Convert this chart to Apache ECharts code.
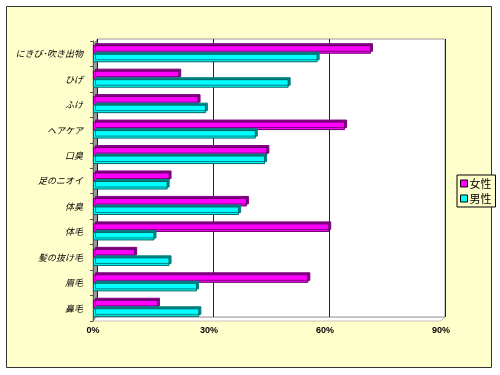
<!DOCTYPE html>
<html><head><meta charset="utf-8">
<script src="https://cdn.jsdelivr.net/npm/echarts@6/dist/echarts.min.js"></script>
<style>html,body{margin:0;padding:0;background:#fff}#c{width:500px;height:375px}</style>
</head><body><div id="c"></div>
<script>
const categories = ['にきび･吹き出物','ひげ','ふけ','ヘアケア','口臭','足のニオイ','体臭','体毛','髪の抜け毛','眉毛','鼻毛'];
const female = [71.9, 22.3, 27.3, 65.2, 45.1, 19.8, 39.8, 61.1, 10.9, 55.7, 16.8];
const male   = [58.1, 50.6, 29.2, 42.1, 44.5, 19.3, 37.8, 15.9, 19.8, 26.9, 27.5];
const seriesNames = ['女性','男性'];
const xTicks = [0, 30, 60, 90];

const chart = echarts.init(document.getElementById('c'), null, {renderer:'canvas'});
const jp = '"Noto Sans CJK JP", "Noto Sans", sans-serif';
chart.setOption({
  backgroundColor: '#fff',
  animation: false,
  graphic: [
    {type:'rect', z:-10, shape:{x:6.5,y:6.5,width:485,height:361}, style:{fill:'#FFFFCC', stroke:'#333', lineWidth:1}},
    {type:'polygon', z:-5, shape:{points:[[93,44],[97,40],[97,317],[93,321]]}, style:{fill:'#9a9a9a', stroke:'#666', lineWidth:0.5}},
    {type:'polygon', z:-5, shape:{points:[[93,321],[97,317],[445,317],[441,321]]}, style:{fill:'#fff', stroke:'#888', lineWidth:0.5}}
  ],
  legend: {
    data: seriesNames,
    orient: 'vertical',
    left: 457, top: 175,
    itemWidth: 7, itemHeight: 7, itemGap: 4,
    icon: 'rect',
    padding: [3, 4, 3, 3],
    borderColor: '#000', borderWidth: 1,
    backgroundColor: '#FFFFCC',
    textStyle: {fontFamily: jp, fontSize: 11, color: '#000', padding:[0,0,0,-3]},
    itemStyle: {borderColor: '#000', borderWidth: 1}
  },
  grid: [
    {left: 97, right: 55, top: 39, bottom: 58, show: true, backgroundColor: '#fff', borderColor: '#999', borderWidth: 1, containLabel: false},
    {left: 93, right: 59, top: 41, bottom: 54, containLabel: false}
  ],
  xAxis: [
    {gridIndex: 0, type: 'value', min: 0, max: 90, interval: 30,
     axisLine:{show:false}, axisTick:{show:false}, axisLabel:{show:false},
     splitLine:{show:true, lineStyle:{color:'#222', width:1}}},
    {gridIndex: 1, type: 'value', min: xTicks[0], max: xTicks[xTicks.length-1], interval: 30,
     axisLine:{show:false}, axisTick:{show:false}, splitLine:{show:false},
     axisLabel:{formatter: v => v + '%', fontFamily: '"Liberation Sans", Arial, sans-serif', fontWeight:'bold', fontSize: 9, color:'#000', margin: 5}}
  ],
  yAxis: [
    {gridIndex: 0, type: 'category', data: categories, inverse: true, show: false},
    {gridIndex: 1, type: 'category', data: categories, inverse: true,
     axisLine:{show:true, lineStyle:{color:'#555'}},
     axisTick:{show:true, length: 3, lineStyle:{color:'#555'}},
     axisLabel:{fontFamily: jp, fontStyle:'italic', fontSize: 9, color:'#000', margin: 10}}
  ],
  series: [
    {name: seriesNames[0], type: 'bar', xAxisIndex: 1, yAxisIndex: 1, data: female,
     barGap: '0%', barCategoryGap: '33%',
     itemStyle: {color: '#FF00FF', borderColor: '#660066', borderWidth: 1,
       shadowColor: '#800080', shadowOffsetX: 2, shadowOffsetY: -2, shadowBlur: 0}},
    {name: seriesNames[1], type: 'bar', xAxisIndex: 1, yAxisIndex: 1, data: male,
     barGap: '0%', barCategoryGap: '33%',
     itemStyle: {color: '#00FFFF', borderColor: '#006666', borderWidth: 1,
       shadowColor: '#008080', shadowOffsetX: 2, shadowOffsetY: -2, shadowBlur: 0}}
  ]
});
</script></body></html>
